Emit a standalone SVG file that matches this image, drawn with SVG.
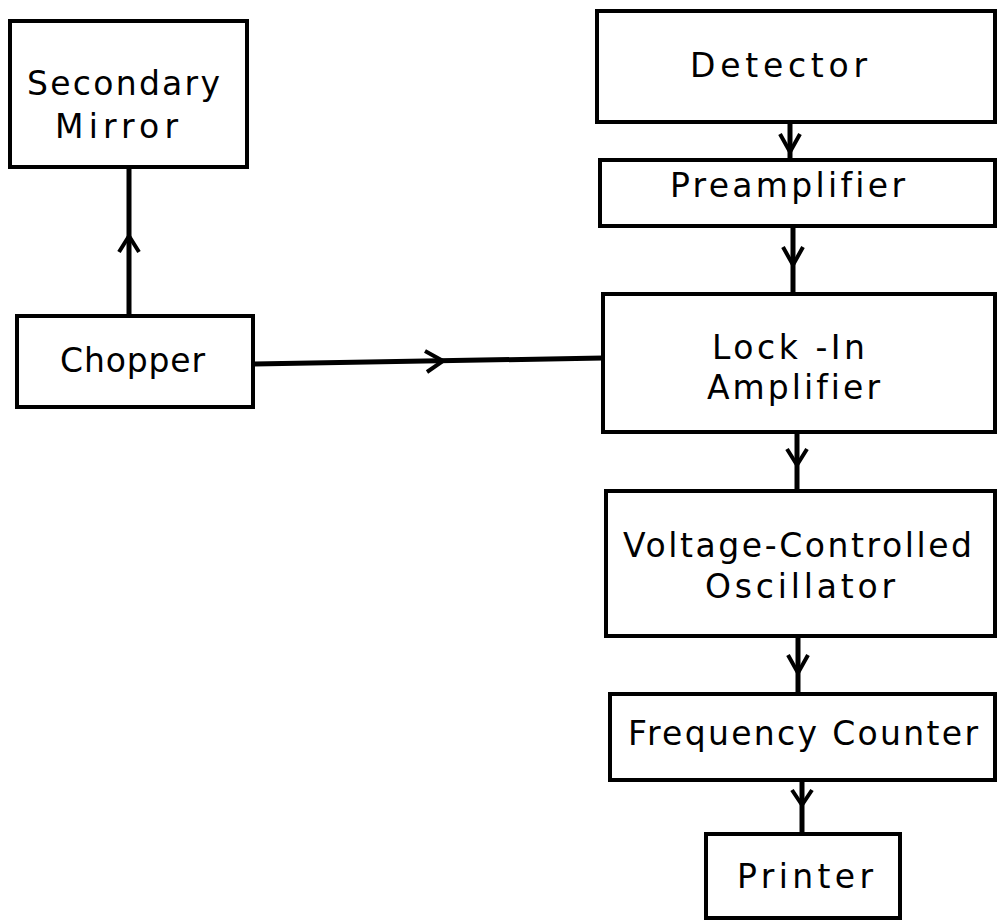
<svg xmlns="http://www.w3.org/2000/svg" width="998" height="923" viewBox="0 0 998 923">
<style>
.box{fill:#fff;stroke:#000;stroke-width:4}
.lbl{font-family:"DejaVu Sans","Liberation Sans",sans-serif;font-size:33px;fill:#000;text-anchor:middle;font-variant-ligatures:none;font-feature-settings:"liga" 0}
.ln{stroke:#000;stroke-width:5;fill:none}
.chev{stroke:#000;stroke-width:4;fill:none;stroke-linejoin:miter}
</style>
<rect width="998" height="923" fill="#fff"/>
<g id="connectors">
<line class="ln" x1="129" y1="167" x2="129" y2="316"/>
<path class="chev" d="M119,252 L129,236 L139,252"/>
<line class="ln" x1="253" y1="364" x2="603" y2="358"/>
<path class="chev" d="M425,351 L443,361 L427,372"/>
<line class="ln" x1="790" y1="122" x2="790" y2="160"/>
<path class="chev" d="M780,134 L790,152 L800,134"/>
<line class="ln" x1="793" y1="226" x2="793" y2="294"/>
<path class="chev" d="M783,247 L793,265 L803,247"/>
<line class="ln" x1="797" y1="432" x2="797" y2="491"/>
<path class="chev" d="M787,449 L797,465 L807,449"/>
<line class="ln" x1="798" y1="636" x2="798" y2="694"/>
<path class="chev" d="M788,655 L798,673 L808,655"/>
<line class="ln" x1="802" y1="780" x2="802" y2="834"/>
<path class="chev" d="M792,790 L802,805 L812,790"/>
</g>
<g id="secondary-mirror">
<rect class="box" x="10" y="21" width="237" height="146"/>
<text class="lbl" x="123.5" y="95" textLength="193" lengthAdjust="spacing">Secondary</text>
<text class="lbl" x="116.5" y="138" textLength="123" lengthAdjust="spacing">Mirror</text>
</g>
<g id="chopper">
<rect class="box" x="17" y="316" width="236" height="91"/>
<text class="lbl" x="132.5" y="372" textLength="145" lengthAdjust="spacing">Chopper</text>
</g>
<g id="detector">
<rect class="box" x="597" y="11" width="398" height="111"/>
<text class="lbl" x="778.5" y="77" textLength="177" lengthAdjust="spacing">Detector</text>
</g>
<g id="preamplifier">
<rect class="box" x="600" y="160" width="395" height="66"/>
<text class="lbl" x="787.5" y="197" textLength="235" lengthAdjust="spacing">Preamplifier</text>
</g>
<g id="lock-in">
<rect class="box" x="603" y="294" width="392" height="138"/>
<text class="lbl" x="788.5" y="359" textLength="153" lengthAdjust="spacing">Lock -In</text>
<text class="lbl" x="793.5" y="399" textLength="173" lengthAdjust="spacing">Amplifier</text>
</g>
<g id="vco">
<rect class="box" x="606" y="491" width="389" height="145"/>
<text class="lbl" x="797.5" y="557" textLength="349" lengthAdjust="spacing">Voltage-Controlled</text>
<text class="lbl" x="800" y="598" textLength="190" lengthAdjust="spacing">Oscillator</text>
</g>
<g id="frequency-counter">
<rect class="box" x="610" y="694" width="385" height="86"/>
<text class="lbl" x="803" y="745" textLength="350" lengthAdjust="spacing">Frequency Counter</text>
</g>
<g id="printer">
<rect class="box" x="706" y="834" width="194" height="84"/>
<text class="lbl" x="805" y="888" textLength="136" lengthAdjust="spacing">Printer</text>
</g>
</svg>
